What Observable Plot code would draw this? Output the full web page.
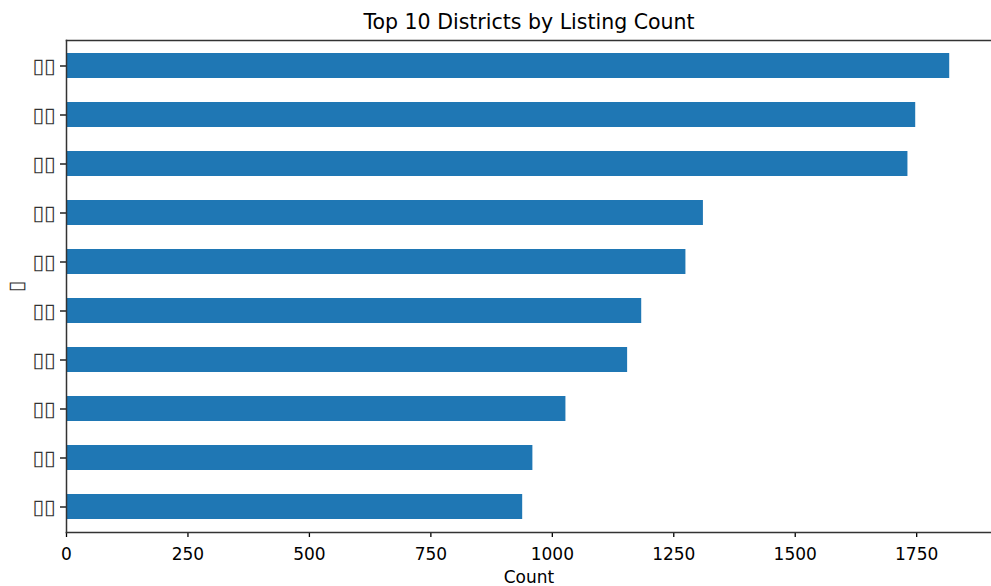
<!DOCTYPE html>
<html>
<head>
<meta charset="utf-8">
<script src="https://cdn.jsdelivr.net/npm/d3@7"></script>
<script src="https://cdn.jsdelivr.net/npm/@observablehq/plot@0.6"></script>
<style>
  html, body { margin: 0; padding: 0; background: #fff; overflow: hidden; }
  svg { font-family: "DejaVu Sans", sans-serif; }
</style>
</head>
<body>
<div id="chart"></div>
<script>
// Chart data (district names render as missing-glyph boxes in the reference)
const title = "Top 10 Districts by Listing Count";
const xLabel = "Count";
const yLabel = "▯";
const districts = ["▯▯", "▯▯", "▯▯", "▯▯", "▯▯", "▯▯", "▯▯", "▯▯", "▯▯", "▯▯"];
const counts = [1818, 1748, 1732, 1311, 1275, 1184, 1155, 1028, 960, 939];
const xTicks = [0, 250, 500, 750, 1000, 1250, 1500, 1750];

const data = districts.map((name, i) => ({rank: i, name, count: counts[i]}));

const W = 991, H = 586;
const mTop = 40, mBottom = 54, mLeft = 66, mRight = 0;

const chart = Plot.plot({
  width: W,
  height: H,
  marginTop: mTop,
  marginBottom: mBottom,
  marginLeft: mLeft,
  marginRight: mRight,
  style: {fontFamily: "DejaVu Sans, sans-serif", fontSize: "17px", color: "#000", background: "#fff"},
  x: {domain: [0, 1904], ticks: xTicks},
  y: {domain: data.map(d => d.rank), paddingInner: 0.5, paddingOuter: 0.25},
  marks: [
    Plot.barX(data, {x: "count", y: "rank", fill: "#1f77b4"}),
    Plot.axisX({ticks: xTicks, tickFormat: d => String(d), tickSize: 5, tickPadding: 10, fontSize: 17, stroke: "#000", strokeWidth: 1.3,
      label: xLabel, labelAnchor: "center", labelArrow: "none", labelOffset: 50}),
    Plot.axisY({tickSize: 6, tickPadding: 5, fontSize: 21, stroke: "#000", fill: "#333", strokeWidth: 1.3,
      tickFormat: i => districts[i], label: yLabel, labelAnchor: "center", labelArrow: "none", labelOffset: 58}),
    Plot.text([title], {frameAnchor: "top", lineAnchor: "middle", dy: -18, fontSize: 20.5, fill: "#000"}),
    Plot.frame({anchor: "top", stroke: "#333", strokeWidth: 1.5}),
    Plot.frame({anchor: "bottom", stroke: "#333", strokeWidth: 1.5}),
    Plot.frame({anchor: "left", stroke: "#333", strokeWidth: 1.5})
  ]
});
document.getElementById("chart").append(chart);
</script>
</body>
</html>
